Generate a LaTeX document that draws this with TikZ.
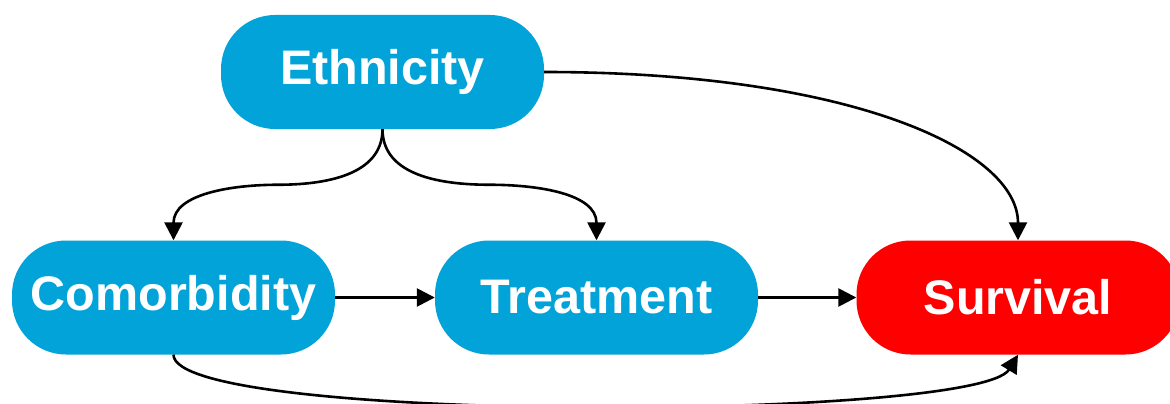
\documentclass[tikz,border=0pt]{standalone}
\usepackage{fontspec}
\setmainfont{Liberation Sans}
\usetikzlibrary{arrows.meta,calc}
\definecolor{nodeblue}{RGB}{2,163,217}
\definecolor{nodered}{RGB}{255,0,0}
\tikzset{
  pill/.style={rectangle, rounded corners=54pt, minimum width=323pt, minimum height=114pt,
    inner sep=0pt, text=white, font=\fontsize{48.5}{56}\selectfont\bfseries, draw=none},
  bluepill/.style={pill, fill=nodeblue},
  redpill/.style={pill, fill=nodered},
  conn/.style={draw=black, line width=2.6pt, -{Triangle[length=18pt,width=18pt]}}
}
\begin{document}
\begin{tikzpicture}[x=1pt,y=-1pt]
\clip (0,0) rectangle (1170,404);
\fill[white] (0,0) rectangle (1170,404);
\node[bluepill] (eth) at (382.5,72) {Ethnicity};
\node[bluepill] (com) at (173.5,297.5) {Comorbidity};
\node[bluepill] (tre) at (596.5,297.5) {Treatment};
\node[redpill]  (sur) at (1018,297.5) {Survival};
\draw[conn] (eth.south) to[out=-90,in=0] ($(eth.south)!0.5!(com.north)$) to[out=180,in=90] (com.north);
\draw[conn] (eth.south) to[out=-90,in=180] ($(eth.south)!0.5!(tre.north)$) to[out=0,in=90] (tre.north);
\draw[conn] (eth.east) .. controls (850,72) and (1018,150) .. (sur.north);
\draw[conn] (com.east) -- (tre.west);
\draw[conn] (tre.east) -- (sur.west);
\draw[conn] (com.south) .. controls (173.5,424) and (978,421) .. (sur.south);
\end{tikzpicture}
\end{document}
